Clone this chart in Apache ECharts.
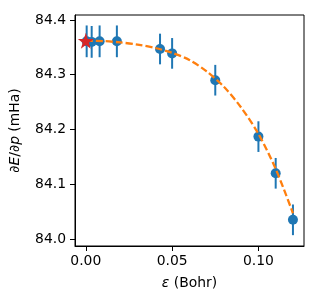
<!DOCTYPE html>
<html>
<head>
<meta charset="utf-8">
<script src="https://cdn.jsdelivr.net/npm/echarts@6/dist/echarts.min.js"></script>
<style>html,body{margin:0;padding:0;background:#fff;}#c{width:319px;height:299px;}</style>
</head>
<body>
<div id="c"></div>
<script>
// Measured points
const epsValues = [0.0005, 0.0034, 0.008, 0.018, 0.043, 0.050, 0.075, 0.100, 0.110, 0.120];
const dEdpValues = [84.361, 84.360, 84.361, 84.361, 84.347, 84.339, 84.290, 84.187, 84.120, 84.035];
const errValues = [0.029, 0.029, 0.029, 0.029, 0.028, 0.028, 0.028, 0.028, 0.028, 0.028];
// Extrapolated value (star)
const starPoint = [0.0, 84.362];
// Fitted dashed curve
const fitX = [0, 0.01, 0.02, 0.03, 0.04, 0.05, 0.06, 0.07, 0.08, 0.09, 0.10, 0.11, 0.12];
const fitY = [84.362, 84.3615, 84.359, 84.355, 84.349, 84.340, 84.327, 84.306, 84.278, 84.240, 84.192, 84.128, 84.047];
// Tick labels
const xTicks = [0, 0.05, 0.10];
const yTicks = [84.0, 84.1, 84.2, 84.3, 84.4];

const font = 'DejaVu Sans';
const chart = echarts.init(document.getElementById('c'), null, {renderer: 'canvas'});

const errData = epsValues.map((x, i) => [x, dEdpValues[i] - errValues[i], dEdpValues[i] + errValues[i]]);

chart.setOption({
  animation: false,
  backgroundColor: '#fff',
  grid: {left: 71, top: 15, right: 15, bottom: 53, show: true, borderColor: '#000', borderWidth: 1},
  xAxis: {
    type: 'value', min: -0.00626, max: 0.1264,
    axisLine: {show: true, onZero: false, lineStyle: {color: '#000', width: 1}},
    axisTick: {show: true, customValues: xTicks, length: 5, lineStyle: {color: '#000'}},
    axisLabel: {customValues: xTicks, margin: 8, color: '#000', fontFamily: font, fontSize: 13.9,
      formatter: v => v.toFixed(2)},
    splitLine: {show: false},
    name: '{i|ε} (Bohr)', nameLocation: 'middle', nameGap: 30,
    nameTextStyle: {color: '#000', fontFamily: font, fontSize: 13.9,
      rich: {i: {fontStyle: 'italic', fontFamily: font, fontSize: 13.9, color: '#000'}}}
  },
  yAxis: {
    type: 'value', min: 83.9872, max: 84.4091,
    axisLine: {show: true, onZero: false, lineStyle: {color: '#000', width: 1}},
    axisTick: {show: true, customValues: yTicks, length: 5, lineStyle: {color: '#000'}},
    axisLabel: {customValues: yTicks, margin: 9, color: '#000', fontFamily: font, fontSize: 13.9,
      formatter: v => v.toFixed(1)},
    splitLine: {show: false},
    name: '∂{i|E}/∂{i|p} (mHa)', nameLocation: 'middle', nameGap: 53,
    nameTextStyle: {color: '#000', fontFamily: font, fontSize: 13.9,
      rich: {i: {fontStyle: 'italic', fontFamily: font, fontSize: 13.9, color: '#000'}}}
  },
  series: [
    {
      type: 'custom',
      data: errData,
      z: 2,
      renderItem: function (params, api) {
        const x = api.value(0);
        const lo = api.coord([x, api.value(1)]);
        const hi = api.coord([x, api.value(2)]);
        return {type: 'line', shape: {x1: lo[0], y1: lo[1], x2: hi[0], y2: hi[1]},
          style: {stroke: '#1f77b4', lineWidth: 2}};
      }
    },
    {
      type: 'scatter', z: 3,
      data: epsValues.map((x, i) => [x, dEdpValues[i]]),
      symbol: 'circle', symbolSize: 10,
      itemStyle: {color: '#1f77b4', opacity: 1}
    },
    {
      type: 'line', z: 4,
      data: fitX.map((x, i) => [x, fitY[i]]),
      smooth: 0.3, showSymbol: false, symbol: 'none',
      lineStyle: {color: '#ff7f0e', width: 2.3, type: [7, 3]}
    },
    {
      type: 'scatter', z: 5,
      data: [starPoint],
      symbol: 'path://M50,0 L61.8,35.4 L99,35.4 L69,57.3 L80.4,92.7 L50,70.8 L19.6,92.7 L31,57.3 L1,35.4 L38.2,35.4 Z',
      symbolSize: 16,
      itemStyle: {color: '#d62728', opacity: 1}
    }
  ]
});
</script>
</body>
</html>
